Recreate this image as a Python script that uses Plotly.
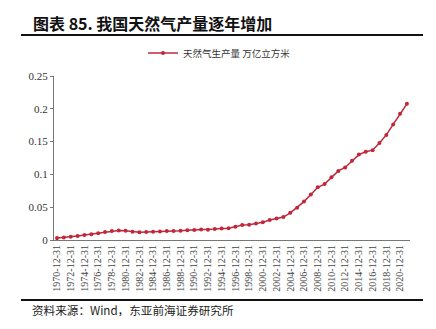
import plotly.graph_objects as go

years = list(range(1970, 2022))
dates = [f"{y}-12-31" for y in years]
gas_production = [
    0.00287, 0.00374, 0.00484, 0.00598, 0.00753, 0.00885, 0.01010, 0.01212, 0.01373, 0.01451,
    0.01427, 0.01274, 0.01193, 0.01221, 0.01243, 0.01293, 0.01376, 0.01389, 0.01426, 0.01505,
    0.01530, 0.01607, 0.01579, 0.01677, 0.01756, 0.01795, 0.02011, 0.02270, 0.02328, 0.02520,
    0.02720, 0.03033, 0.03266, 0.03502, 0.04146, 0.04932, 0.05855, 0.06924, 0.08030, 0.08527,
    0.09577, 0.10530, 0.11060, 0.12090, 0.13020, 0.13460, 0.13690, 0.14800, 0.16020, 0.17620,
    0.19250, 0.20760,
]
tick_labels = dates[::2]
y_ticks = [0, 0.05, 0.1, 0.15, 0.2, 0.25]
y_tick_text = ["0", "0.05", "0.1", "0.15", "0.2", "0.25"]

series_name = "天然气生产量 万亿立方米"
title_text = "图表 85. 我国天然气产量逐年增加"
source_text = "资料来源：Wind，东亚前海证券研究所"

red = "#C0283A"
cjk = "Noto Sans CJK SC"
serif = "Liberation Serif"

fig = go.Figure()
fig.add_trace(go.Scatter(
    x=dates, y=gas_production, mode="lines+markers", name=series_name,
    line=dict(color=red, width=1.5),
    marker=dict(color=red, size=4, symbol="circle"),
))

W, H = 436, 329
PW, PH = W - 54 - 26, H - 76 - 89
fig.update_layout(
    width=W, height=H,
    margin=dict(l=54, r=26, t=76, b=89),
    paper_bgcolor="white", plot_bgcolor="white",
    showlegend=True,
    legend=dict(
        orientation="h", x=(143 - 54) / PW, xanchor="left", y=1.0 + (76 - 53) / PH,
        yanchor="middle", font=dict(family=cjk, size=9.5, color="#333"),
        itemwidth=30, bgcolor="rgba(0,0,0,0)",
    ),
    xaxis=dict(
        type="category", tickmode="array", tickvals=tick_labels, ticktext=tick_labels,
        tickangle=-90, tickfont=dict(family=serif, size=10, color="#444"),
        showline=True, linecolor="#777", linewidth=1, showgrid=False,
        ticks="", range=[-0.44, 51.45], zeroline=False,
    ),
    yaxis=dict(
        range=[0, 0.25], tickmode="array", tickvals=y_ticks, ticktext=y_tick_text,
        tickfont=dict(family=serif, size=11, color="#333"),
        showline=True, linecolor="#777", linewidth=1, showgrid=False,
        ticks="outside", ticklen=3, tickcolor="#777", zeroline=False,
    ),
)

fig.add_annotation(
    xref="paper", yref="paper", x=(31 - 54) / PW, y=1 + (76 - 23) / PH,
    xanchor="left", yanchor="middle", showarrow=False,
    text=f"<b>{title_text}</b>", font=dict(family=cjk, size=16, color="#111"),
)
fig.add_annotation(
    xref="paper", yref="paper", x=(30 - 54) / PW, y=-(310 - 240) / PH,
    xanchor="left", yanchor="middle", showarrow=False,
    text=source_text, font=dict(family=cjk, size=11.6, color="#222"),
)

def hline(ypix):
    fig.add_shape(
        type="line", xref="paper", yref="paper",
        x0=(21 - 54) / PW, x1=(423 - 54) / PW,
        y0=(240 - ypix) / PH, y1=(240 - ypix) / PH,
        line=dict(color="#111", width=2),
    )

hline(35)
hline(300)

fig.write_html("out.html")
